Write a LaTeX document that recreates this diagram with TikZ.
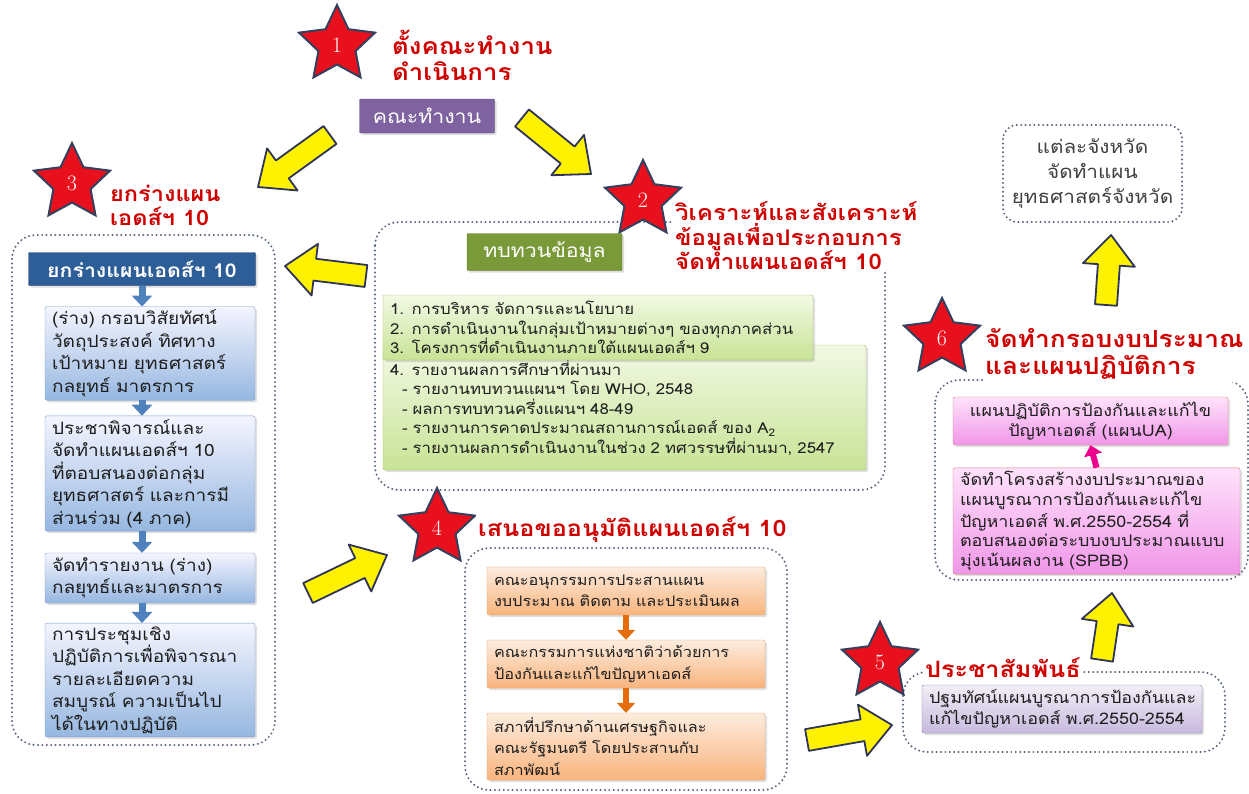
\documentclass[tikz,border=0pt]{standalone}
\usepackage{fontspec}
\newfontfamily\thaiFont[Script=Thai,FakeStretch=1.12]{Loma}
\usetikzlibrary{calc,shapes.geometric,arrows.meta,shadows}

\definecolor{starRed}{HTML}{E8101C}
\definecolor{starEdge}{HTML}{34405E}
\definecolor{titleRed}{HTML}{D00000}
\definecolor{dotGray}{HTML}{56647E}
\definecolor{arrowEdge}{HTML}{2E3558}
\definecolor{inkDark}{HTML}{1E1E1E}

%% block arrow from #1 to #2
\newcommand{\yellowArrow}[2]{%
  \path let \p1=($(#2)-(#1)$) in \pgfextra{%
    \pgfmathsetmacro{\arrAng}{atan2(\y1,\x1)}%
    \pgfmathsetmacro{\arrLen}{veclen(\x1,\y1)}%
    \global\let\arrAng\arrAng\global\let\arrLen\arrLen};
  \draw[fatArrow,shift={(#1)},rotate=\arrAng]
    (0pt,-11pt) -- (\arrLen pt-30pt,-11pt) -- (\arrLen pt-30pt,-26pt)
    -- (\arrLen pt,0pt) -- (\arrLen pt-30pt,26pt) -- (\arrLen pt-30pt,11pt)
    -- (0pt,11pt) -- cycle;}

\begin{document}
\begin{tikzpicture}
[x=1pt,y=-1pt,
  starDecorate/.style={shape=star,star points=5,star point ratio=2.05,minimum size=80pt,
    inner sep=0pt,fill=starRed,draw=starEdge,line width=2pt,text=white,
    font=\fontsize{22}{22}\selectfont},%
  titleDecorate/.style={anchor=west,align=left,text=titleRed,fill=white,inner sep=2pt,
    font=\thaiFont\bfseries\fontsize{21.5}{24.5}\selectfont},%
  groupDecorate/.style={draw=dotGray,line width=2.2pt,line cap=round,
    dash pattern=on 0pt off 4.4pt,rounded corners=24pt},%
  boxDecorate/.style={rounded corners=2pt,align=left,text=inkDark,inner xsep=7pt,
    drop shadow={shadow xshift=2pt,shadow yshift=-2pt,opacity=0.25}},%
  blueBox/.style={boxDecorate,top color=blue!4!white,bottom color={rgb,255:red,150;green,183;blue,224},
    draw={rgb,255:red,120;green,155;blue,205},text width=196pt,
    font=\thaiFont\fontsize{17}{22.5}\selectfont},%
  greenBox/.style={boxDecorate,top color={rgb,255:red,242;green,249;blue,228},
    bottom color={rgb,255:red,200;green,227;blue,150},draw={rgb,255:red,160;green,190;blue,100},
    font=\thaiFont\fontsize{15}{19.5}\selectfont},%
  orangeBox/.style={boxDecorate,top color={rgb,255:red,253;green,236;blue,222},
    bottom color={rgb,255:red,248;green,180;blue,125},draw={rgb,255:red,232;green,160;blue,100},
    text width=264pt,font=\thaiFont\fontsize{14.5}{21.5}\selectfont},%
  lilacBox/.style={boxDecorate,top color={rgb,255:red,242;green,238;blue,247},
    bottom color={rgb,255:red,200;green,186;blue,222},draw={rgb,255:red,138;green,120;blue,168},
    text width=266pt,font=\thaiFont\fontsize{16}{21}\selectfont},%
  pinkBox/.style={boxDecorate,top color={rgb,255:red,255;green,226;blue,251},
    bottom color={rgb,255:red,240;green,150;blue,232},draw={rgb,255:red,215;green,125;blue,125},
    font=\thaiFont\fontsize{16}{19.8}\selectfont},%
  headBox/.style={rounded corners=1pt,text=white,font=\thaiFont\fontsize{19}{22}\selectfont,
    drop shadow={shadow xshift=2pt,shadow yshift=-2pt,opacity=0.25}},%
  fatArrow/.style={fill=yellow,draw=arrowEdge,line width=1.8pt,line join=round},%
  blueDown/.style={draw={rgb,255:red,79;green,129;blue,189},line width=7pt,
    -{Triangle[width=20pt,length=11pt]}},%
  orangeDown/.style={draw={rgb,255:red,228;green,108;blue,10},line width=6pt,
    -{Triangle[width=18pt,length=10pt]}},%
  pinkUp/.style={draw=magenta,line width=6pt,-{Triangle[width=18pt,length=10pt]}}]
\useasboundingbox (0,0) rectangle (1249,793);

%% dotted groups
\draw[groupDecorate] (12,235) rectangle (275,745);
\draw[groupDecorate] (375,222) rectangle (885,490);
\draw[groupDecorate] (465,548) rectangle (787,790);
\draw[groupDecorate] (903,672) rectangle (1225,752);
\draw[groupDecorate] (935,380) rectangle (1248,580);
\draw[groupDecorate,rounded corners=14pt] (1003,125) rectangle (1182,222);

%% stars and titles
\foreach \nodename/\num/\x/\y in {s1/1/337/45, s2/2/643/200, s3/3/72/183,
    s4/4/437/528, s5/5/880/662, s6/6/942/338} {
  \node (\nodename) at (\x,\y) [starDecorate] {\num};
}
\node (t1) at (390,55) [titleDecorate,font=\thaiFont\bfseries\fontsize{23}{26}\selectfont]
  {ตั้งคณะทำงาน\\ดำเนินการ};
\node (t2) at (673,236) [titleDecorate] {วิเคราะห์และสังเคราะห์\\ข้อมูลเพื่อประกอบการ\\จัดทำแผนเอดส์ฯ 10};
\node (t3) at (108,205) [titleDecorate,font=\thaiFont\bfseries\fontsize{21}{24}\selectfont]
  {ยกร่างแผน\\เอดส์ฯ 10};
\node (t4) at (476,530) [titleDecorate,font=\thaiFont\bfseries\fontsize{22.5}{26}\selectfont]
  {เสนอขออนุมัติแผนเอดส์ฯ 10};
\node (t5) at (923,668) [titleDecorate,font=\thaiFont\bfseries\fontsize{22.5}{26}\selectfont]
  {ประชาสัมพันธ์};
\node (t6) at (983,354) [titleDecorate,font=\thaiFont\bfseries\fontsize{23.5}{27}\selectfont]
  {จัดทำกรอบงบประมาณ\\และแผนปฏิบัติการ};

%% working team
\node (team) at (427,116) [headBox,fill={rgb,255:red,127;green,98;blue,160},
  draw={rgb,255:red,95;green,74;blue,128},minimum width=135pt,minimum height=34pt] {คณะทำงาน};

%% step 3: left column
\node (draft) at (142,269) [headBox,fill={rgb,255:red,46;green,94;blue,152},
  draw={rgb,255:red,30;green,62;blue,110},minimum width=227pt,minimum height=33pt,
  font=\thaiFont\bfseries\fontsize{19}{22}\selectfont] {ยกร่างแผนเอดส์ฯ 10};
\node (l1) at (150,353.5) [blueBox,minimum height=83pt]
  {(ร่าง) กรอบวิสัยทัศน์\\วัตถุประสงค์ ทิศทาง\\เป้าหมาย ยุทธศาสตร์\\กลยุทธ์ มาตรการ};
\node (l2) at (150,473.5) [blueBox,minimum height=103pt]
  {ประชาพิจารณ์และ\\จัดทำแผนเอดส์ฯ 10\\ที่ตอบสนองต่อกลุ่ม\\ยุทธศาสตร์ และการมี\\ส่วนร่วม (4 ภาค)};
\node (l3) at (150,578) [blueBox,minimum height=50pt]
  {จัดทำรายงาน (ร่าง)\\กลยุทธ์และมาตรการ};
\node (l4) at (150,680) [blueBox,minimum height=108pt]
  {การประชุมเชิง\\ปฏิบัติการเพื่อพิจารณา\\รายละเอียดความ\\สมบูรณ์ ความเป็นไป\\ได้ในทางปฏิบัติ};
\draw[blueDown] (draft.south) -- (draft.south |- l1.north);
\foreach \startnode/\endnode in {l1/l2, l2/l3, l3/l4} {
  \draw[blueDown] (draft.south |- \startnode.south) -- (draft.south |- \endnode.north);
}

%% step 2: review
\node (review) at (544.5,252) [headBox,fill={rgb,255:red,122;green,154;blue,58},
  draw={rgb,255:red,93;green,122;blue,42},minimum width=155pt,minimum height=37pt] {ทบทวนข้อมูล};
\node (listB) at (624.5,407.5) [greenBox,text width=469pt,minimum height=125pt]
  {4. รายงานผลการศึกษาที่ผ่านมา\\
   \hspace*{12pt}- รายงานทบทวนแผนฯ โดย WHO, 2548\\
   \hspace*{12pt}- ผลการทบทวนครึ่งแผนฯ 48-49\\
   \hspace*{12pt}- รายงานการคาดประมาณสถานการณ์เอดส์ ของ A\textsubscript{2}\\
   \hspace*{12pt}- รายงานผลการดำเนินงานในช่วง 2 ทศวรรษที่ผ่านมา, 2547};
\node (listA) at (598,327.5) [greenBox,text width=416pt,minimum height=65pt]
  {1. การบริหาร จัดการและนโยบาย\\
   2. การดำเนินงานในกลุ่มเป้าหมายต่างๆ ของทุกภาคส่วน\\
   3. โครงการที่ดำเนินงานภายใต้แผนเอดส์ฯ 9};

%% step 4: approval
\node (o1) at (626,591) [orangeBox,minimum height=48pt]
  {คณะอนุกรรมการประสานแผน\\งบประมาณ ติดตาม และประเมินผล};
\node (o2) at (626,664) [orangeBox,minimum height=48pt]
  {คณะกรรมการแห่งชาติว่าด้วยการ\\ป้องกันและแก้ไขปัญหาเอดส์};
\node (o3) at (626,746.5) [orangeBox,minimum height=67pt]
  {สภาที่ปรึกษาด้านเศรษฐกิจและ\\คณะรัฐมนตรี โดยประสานกับ\\สภาพัฒน์};
\draw[orangeDown] (o1) -- (o2);
\draw[orangeDown] (o2) -- (o3);

%% step 5: launch
\node (launch) at (1062,709) [lilacBox,minimum height=48pt]
  {ปฐมทัศน์แผนบูรณาการป้องกันและ\\แก้ไขปัญหาเอดส์ พ.ศ.2550-2554};

%% step 6: budget and action plan
\node (ua) at (1090.5,421) [pinkBox,align=center,text width=261pt,minimum height=48pt]
  {แผนปฏิบัติการป้องกันและแก้ไข\\ปัญหาเอดส์ (แผนUA)};
\node (spbb) at (1096.5,521) [pinkBox,text width=273pt,minimum height=102pt]
  {จัดทำโครงสร้างงบประมาณของ\\แผนบูรณาการป้องกันและแก้ไข\\ปัญหาเอดส์ พ.ศ.2550-2554 ที่\\ตอบสนองต่อระบบงบประมาณแบบ\\มุ่งเน้นผลงาน (SPBB)};
\draw[pinkUp] (spbb.north) -- (ua.south);

%% provinces
\node (prov) at (1092.5,173.5) [align=center,text=inkDark!85,
  font=\thaiFont\fontsize{18.5}{25}\selectfont] {แต่ละจังหวัด\\จัดทำแผน\\ยุทธศาสตร์จังหวัด};

%% yellow arrows
\foreach \nodename/\x/\y in {a1/330/135, a2/258/187, b1/522/118, b2/591/174,
    c1/366/276, c2/285/266, d1/308/593, d2/387/555, e1/807/740, e2/892/725,
    f1/1102/660, f2/1112/593, g1/1106/305, g2/1111/235} {
  \coordinate (\nodename) at (\x,\y);
}
\yellowArrow{a1}{a2}
\yellowArrow{b1}{b2}
\yellowArrow{c1}{c2}
\yellowArrow{d1}{d2}
\yellowArrow{e1}{e2}
\yellowArrow{f1}{f2}
\yellowArrow{g1}{g2}
\end{tikzpicture}
\end{document}
